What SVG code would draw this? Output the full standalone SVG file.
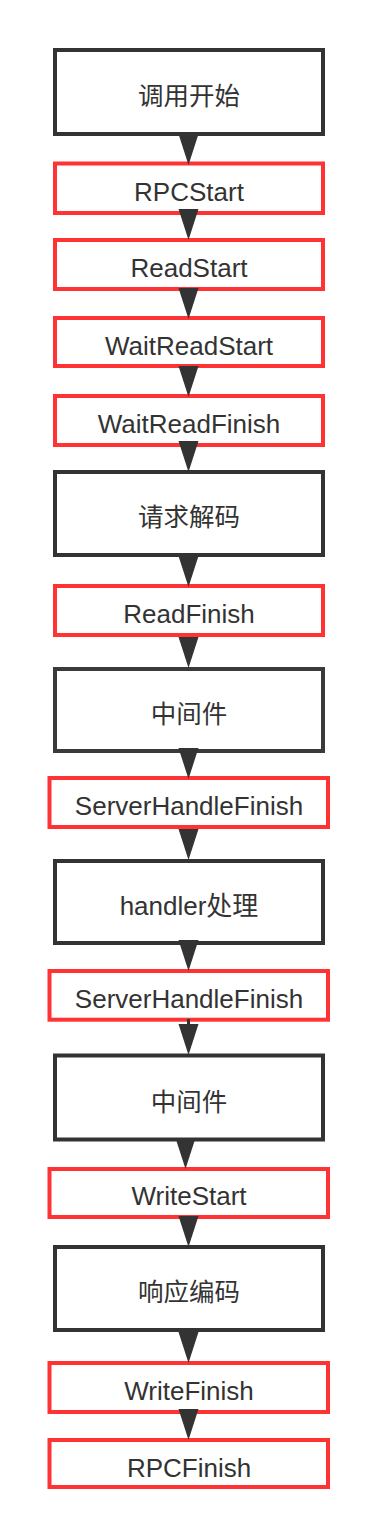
<svg xmlns="http://www.w3.org/2000/svg" width="378" height="1538" viewBox="0 0 378 1538">
<style>
.bk{fill:#fff;stroke:#333;stroke-width:4}
.rd{fill:#fff;stroke:#ff3333;stroke-width:4}
.t{font-family:"Liberation Sans","Noto Sans CJK SC",sans-serif;font-size:26px;fill:#333;text-anchor:middle}
.c{font-family:"Noto Sans CJK SC",sans-serif;font-size:25.5px;fill:#333;text-anchor:middle}
.ln{stroke:#333;stroke-width:3;fill:none}
.ah{fill:#333}
</style>
<defs>
<path id="ah" d="M-10,-31 L10,-31 L0,0 Z"/>
</defs>
<rect width="378" height="1538" fill="#fff"/>
<g id="n1"><rect class="bk" x="55" y="50" width="268" height="84"/><text class="c" x="189" y="105">调用开始</text></g>
<g id="n2"><rect class="rd" x="55" y="163.5" width="268" height="49.5"/><text class="t" x="189" y="201">RPCStart</text></g>
<g id="n3"><rect class="rd" x="55" y="240" width="268" height="49"/><text class="t" x="189" y="277">ReadStart</text></g>
<g id="n4"><rect class="rd" x="55" y="318" width="268" height="48"/><text class="t" x="189" y="355">WaitReadStart</text></g>
<g id="n5"><rect class="rd" x="55" y="396" width="268" height="49"/><text class="t" x="189" y="433">WaitReadFinish</text></g>
<g id="n6"><rect class="bk" x="55" y="472" width="268" height="83"/><text class="c" x="189" y="526">请求解码</text></g>
<g id="n7"><rect class="rd" x="55" y="586" width="268" height="49"/><text class="t" x="189" y="623">ReadFinish</text></g>
<g id="n8"><rect class="bk" x="55" y="669" width="268" height="82" style="stroke:#3a3a3a"/><text class="c" x="189" y="723">中间件</text></g>
<g id="n9"><rect class="rd" x="49.5" y="778" width="278.5" height="49"/><text class="t" x="189" y="815">ServerHandleFinish</text></g>
<g id="n10"><rect class="bk" x="55" y="861" width="268" height="82"/><text class="t" x="189" y="915">handler处理</text></g>
<g id="n11"><rect class="rd" x="49.5" y="971" width="278.5" height="48.7"/><text class="t" x="189" y="1008">ServerHandleFinish</text></g>
<g id="n12"><rect class="bk" x="55" y="1055.5" width="268" height="84"/><text class="c" x="189" y="1110.5">中间件</text></g>
<g id="n13"><rect class="rd" x="49.5" y="1169" width="278.5" height="48"/><text class="t" x="189" y="1205">WriteStart</text></g>
<g id="n14"><rect class="bk" x="55" y="1247" width="268" height="83"/><text class="c" x="189" y="1301">响应编码</text></g>
<g id="n15"><rect class="rd" x="49.5" y="1363" width="278.5" height="49"/><text class="t" x="189" y="1400">WriteFinish</text></g>
<g id="n16"><rect class="rd" x="49.5" y="1440" width="278.5" height="47"/><text class="t" x="189" y="1476.5">RPCFinish</text></g>
<g id="connectors">
<use href="#ah" class="ah" x="188.5" y="165"/>
<use href="#ah" class="ah" x="188.5" y="240"/>
<use href="#ah" class="ah" x="188.5" y="319"/>
<use href="#ah" class="ah" x="188.5" y="397"/>
<use href="#ah" class="ah" x="188.5" y="472"/>
<use href="#ah" class="ah" x="188.5" y="587"/>
<use href="#ah" class="ah" x="188.5" y="668"/>
<use href="#ah" class="ah" x="188.5" y="779"/>
<use href="#ah" class="ah" x="188.5" y="860"/>
<use href="#ah" class="ah" x="188.5" y="971"/>
<path class="ln" d="M188.5,1019 V1027"/>
<use href="#ah" class="ah" x="188.5" y="1055"/>
<use href="#ah" class="ah" x="185.5" y="1169"/>
<use href="#ah" class="ah" x="188.5" y="1247"/>
<use href="#ah" class="ah" x="188.5" y="1363"/>
<use href="#ah" class="ah" x="188.5" y="1440"/>
</g>
</svg>
